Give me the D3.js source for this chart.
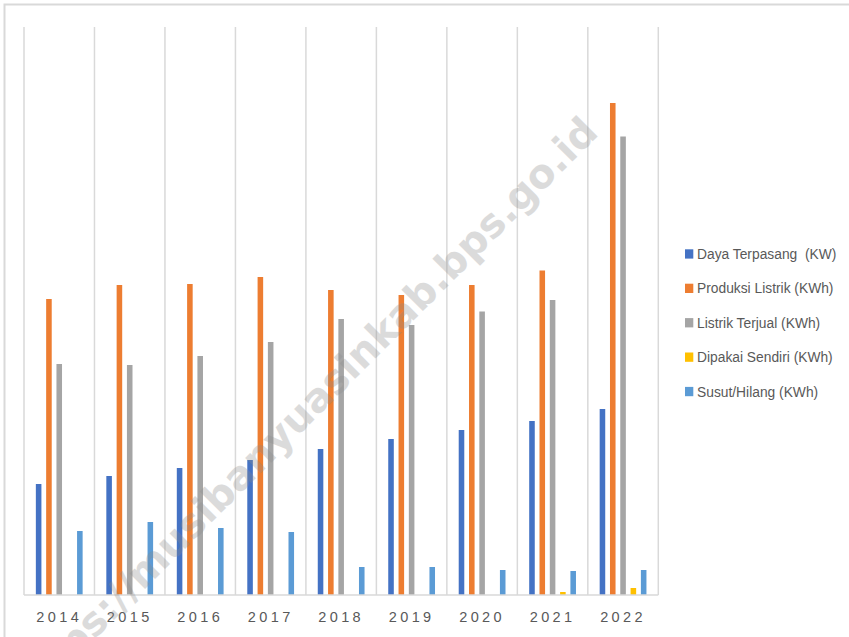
<!DOCTYPE html>
<meta charset="utf-8">

<head>
  <style>
    html, body {
      margin: 0;
      padding: 0;
      background: #fff;
      font-family: 'Liberation Sans', Arial, sans-serif;
    }
  </style>

  <script src="https://d3js.org/d3.v7.min.js"></script>

</head>

<body>
  <div id="my_dataviz"></div>

  <script>

    // Data (no value axis in the original, so units are relative)
    const years = ["2014", "2015", "2016", "2017", "2018", "2019", "2020", "2021", "2022"];
    const seriesNames = ["Daya Terpasang  (KW)", "Produksi Listrik (KWh)", "Listrik Terjual (KWh)", "Dipakai Sendiri (KWh)", "Susut/Hilang (KWh)"];
    const seriesColors = ["#4472C4", "#ED7D31", "#A5A5A5", "#FFC000", "#5B9BD5"];

    const dayaTerpasang = [111, 119, 127, 135, 146, 156, 165, 174, 186];
    const produksiListrik = [296, 310, 311, 318, 305, 300, 310, 324.5, 492];
    const listrikTerjual = [231, 230, 239, 253, 276, 270, 283.5, 295, 458.5];
    const dipakaiSendiri = [0, 0, 0, 0, 0, 0, 0, 3, 7];
    const susutHilang = [64, 73, 67, 63, 28, 28, 25, 24, 25];

    const seriesValues = [dayaTerpasang, produksiListrik, listrikTerjual, dipakaiSendiri, susutHilang];

    const W = 849, H = 637;
    const plot = { left: 24, right: 658.3, top: 27, bottom: 595 };

    const svg = d3.select("#my_dataviz")
      .append("svg")
      .attr("width", W)
      .attr("height", H);

    // outer chart frame (only top and left edges fall inside the picture)
    svg.append("rect")
      .attr("x", 4.5)
      .attr("y", 4.5)
      .attr("width", 900)
      .attr("height", 700)
      .style("fill", "none")
      .style("stroke", "#d9d9d9")
      .style("stroke-width", 2);

    // scales
    const x0 = d3.scaleBand()
      .domain(years)
      .range([plot.left, plot.right]);

    const x1 = d3.scaleBand()
      .domain(seriesNames)
      .range([0, x0.bandwidth()])
      .paddingInner(0.46)
      .paddingOuter(1.15);

    const y = d3.scaleLinear()
      .domain([0, 568])
      .range([plot.bottom, plot.top]);

    // vertical gridlines at category boundaries
    const bounds = years.map(d => x0(d)).concat([plot.right]);
    svg.append("g")
      .selectAll("line")
      .data(bounds)
      .join("line")
      .attr("x1", d => d)
      .attr("x2", d => d)
      .attr("y1", plot.top)
      .attr("y2", plot.bottom)
      .style("stroke", "#d9d9d9")
      .style("stroke-width", 1.5);

    // bars
    const rows = [];
    years.forEach((yr, i) => {
      seriesNames.forEach((s, j) => {
        rows.push({ year: yr, series: s, color: seriesColors[j], value: seriesValues[j][i] });
      });
    });

    svg.append("g")
      .selectAll("rect")
      .data(rows.filter(d => d.value > 0))
      .join("rect")
      .attr("x", d => x0(d.year) + x1(d.series))
      .attr("y", d => y(d.value))
      .attr("width", x1.bandwidth())
      .attr("height", d => y(0) - y(d.value))
      .style("fill", d => d.color);

    // category axis
    const xAxis = svg.append("g")
      .attr("transform", `translate(0,${plot.bottom})`)
      .call(d3.axisBottom(x0).tickSize(0).tickPadding(0));

    xAxis.select(".domain")
      .attr("d", `M${plot.left},0H${plot.right}`)
      .style("stroke", "#d9d9d9")
      .style("stroke-width", 1.5);

    xAxis.selectAll("text")
      .attr("dy", null)
      .attr("y", 27)
      .style("font-family", "'Liberation Sans', Arial, sans-serif")
      .style("font-size", "14.5px")
      .style("letter-spacing", "3.4px")
      .style("fill", "#595959");

    // legend
    const legend = svg.append("g")
      .selectAll("g")
      .data(seriesNames)
      .join("g")
      .attr("transform", (d, i) => `translate(685,${254 + i * 34.4})`);

    legend.append("rect")
      .attr("x", 0)
      .attr("y", -4.7)
      .attr("width", 8.3)
      .attr("height", 9.3)
      .style("fill", (d, i) => seriesColors[i]);

    legend.append("text")
      .attr("x", 12)
      .attr("y", 5)
      .style("font-size", "13.8px")
      .style("fill", "#595959")
      .style("white-space", "pre")
      .text(d => d);

    // watermark
    svg.append("text")
      .attr("transform", "translate(600,134) rotate(-45)")
      .attr("text-anchor", "end")
      .style("font-family", "'DejaVu Sans', sans-serif")
      .style("font-weight", "bold")
      .style("font-size", "40px")
      .style("fill", "#8c8c8c")
      .style("opacity", 0.3)
      .text("https://musibanyuasinkab.bps.go.id");

  </script>

</body>
